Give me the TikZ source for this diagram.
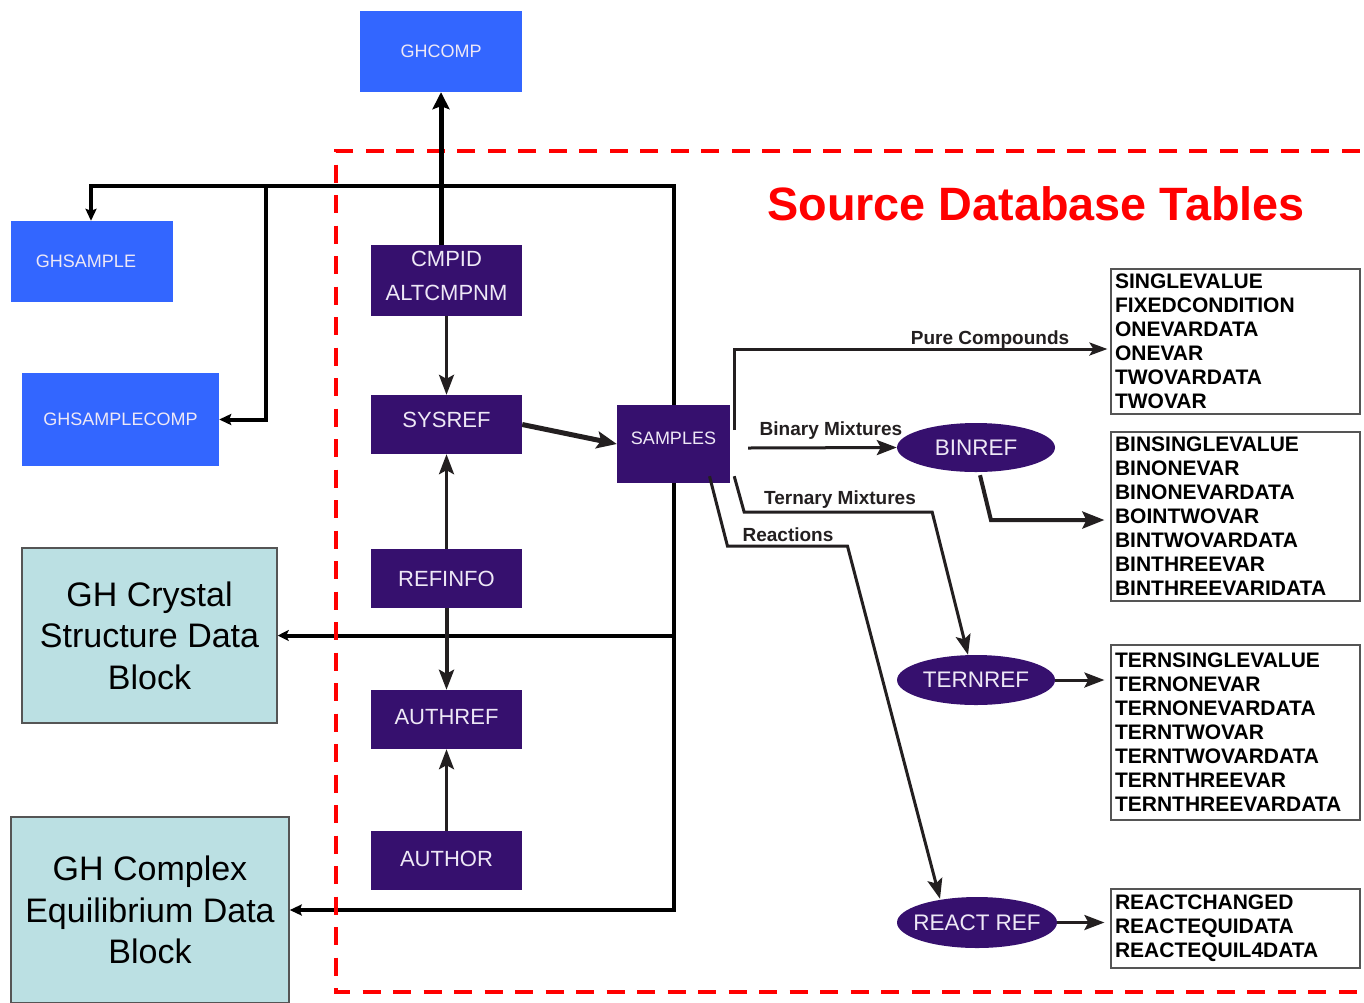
\documentclass[tikz,border=0pt]{standalone}
\usepackage{fontspec}
\setmainfont{Liberation Sans}
\usetikzlibrary{arrows.meta,shapes.geometric,calc}

\definecolor{tblue}{HTML}{3366FF}
\definecolor{tpurple}{HTML}{36106E}
\definecolor{tteal}{HTML}{BBE0E3}
\definecolor{tlabel}{HTML}{EEE8F6}
\definecolor{tink}{HTML}{231F20}
\definecolor{tframe}{HTML}{555555}

\begin{document}
\begin{tikzpicture}[x=1pt,y=-1pt,
  ghbox/.style={fill=tblue, text=tlabel, inner sep=0pt,
    font=\fontsize{18}{20}\selectfont},
  blockbox/.style={fill=tteal, draw=tframe, line width=1.5pt, inner sep=0pt,
    align=center, font=\fontsize{34}{41.5}\selectfont},
  tablebox/.style={fill=tpurple, text=tlabel, inner sep=0pt,
    minimum width=151pt, minimum height=59pt, align=center,
    font=\fontsize{22}{34}\selectfont},
  refoval/.style={ellipse, fill=tpurple, text=tlabel, inner ysep=0pt,
    inner xsep=-30pt, minimum width=158pt, minimum height=50pt,
    font=\fontsize{22.5}{24}\selectfont},
  listbox/.style={draw=tframe, line width=1.2pt, fill=white, inner xsep=4pt,
    inner ysep=0pt, text width=241pt, align=left,
    font=\fontsize{21}{24}\bfseries\selectfont},
  flowlabel/.style={inner sep=0pt, text=tink,
    font=\fontsize{19}{20}\bfseries\selectfont},
  bus/.style={line width=4pt, black},
  link/.style={line width=3pt, tink},
  bigtip/.style={-{Stealth[length=20pt,width=15pt,inset=4pt]}},
  smalltip/.style={-{Stealth[length=12pt,width=11pt,inset=2pt]}},
]
\useasboundingbox (0,0) rectangle (1364,1002);
\fill[white] (0,0) rectangle (1364,1002);

% ---- outside blocks
\node[ghbox, minimum width=162pt, minimum height=81pt] (ghcomp) at (441,51.5) {GHCOMP};
\node[ghbox, minimum width=162pt, minimum height=81pt] (ghsample) at (92,261.5) {GHSAMPLE\hspace*{12pt}};
\node[ghbox, minimum width=197pt, minimum height=93pt] (ghsamplecomp) at (120.5,419.5) {GHSAMPLECOMP};
\node[blockbox, minimum width=255pt, minimum height=175pt] (crystal) at (149.5,635.5)
  {GH Crystal\\Structure Data\\Block};
\node[blockbox, minimum width=278pt, minimum height=186pt] (complex) at (150,910)
  {GH Complex\\Equilibrium Data\\Block};

% ---- source tables
\node[tablebox, minimum height=71pt, text depth=9pt] (cmpid) at (446.5,280.5) {CMPID\\ALTCMPNM};
\node[tablebox, text depth=10pt] (sysref) at (446.5,424.5) {SYSREF};
\node[tablebox] (refinfo) at (446.5,578.5) {REFINFO};
\node[tablebox, text depth=5pt] (authref) at (446.5,719.5) {AUTHREF};
\node[tablebox, text depth=4pt] (author) at (446.5,860.5) {AUTHOR};
\node[tablebox, minimum width=113pt, minimum height=78pt, text depth=12pt,
  font=\fontsize{18}{20}\selectfont] (samples) at (673.5,444) {SAMPLES};

\node[refoval, minimum height=49pt] (binref) at (976,447.5) {BINREF};
\node[refoval] (ternref) at (976,680) {TERNREF};
\node[refoval, minimum width=160pt, minimum height=51pt] (reactref) at (977,922.5) {REACT REF};

\node[listbox, minimum height=145pt] (pure) at (1235.5,341.5)
  {SINGLEVALUE\\FIXEDCONDITION\\ONEVARDATA\\ONEVAR\\TWOVARDATA\\TWOVAR};
\node[listbox, minimum height=169pt] (binlist) at (1235.5,516.5)
  {BINSINGLEVALUE\\BINONEVAR\\BINONEVARDATA\\BOINTWOVAR\\BINTWOVARDATA\\BINTHREEVAR\\BINTHREEVARIDATA};
\node[listbox, minimum height=175pt] (ternlist) at (1235.5,732.5)
  {TERNSINGLEVALUE\\TERNONEVAR\\TERNONEVARDATA\\TERNTWOVAR\\TERNTWOVARDATA\\TERNTHREEVAR\\TERNTHREEVARDATA};
\node[listbox, minimum height=79pt] (reactlist) at (1235.5,928.5)
  {REACTCHANGED\\REACTEQUIDATA\\REACTEQUIL4DATA};

\node[text=red, inner sep=0pt, font=\fontsize{46.8}{50}\bfseries\selectfont]
  (title) at (1036,204) {Source Database Tables};

% ---- bus lines from SAMPLES to the GH blocks
\coordinate (busjoint) at (266,186);
\draw[bus, smalltip] (samples.north) -- ++(0,-219) -| ([xshift=-1pt]ghsample.north);
\draw[bus, smalltip] (busjoint) |- (ghsamplecomp.east);
\draw[bus, smalltip] (samples.south) |- (complex.east);
\draw[bus, -{Stealth[length=11pt,width=11pt,inset=2.5pt]}]
  (samples.south |- crystal.east) -- (crystal.east);

% ---- dashed frame around the source tables
\draw[red, line width=4pt, dash pattern=on 18pt off 12.5pt]
  (1390,151) -- (336,151) -- (336,992) -- (1390,992);

% ---- links between tables
\draw[line width=5pt, black, -{Stealth[length=17pt,width=17pt,inset=3pt]}]
  (ghcomp.south |- cmpid.north) -- (ghcomp.south);
\draw[link, bigtip] (cmpid.south) -- (sysref.north);
\draw[link, bigtip] (refinfo.north) -- (sysref.south);
\draw[link, line width=4pt, bigtip] (refinfo.south) -- (authref.north);
\draw[link, bigtip] (author.north) -- (authref.south);
\draw[link, line width=5pt, -{Stealth[length=20pt,width=17pt,inset=4pt]}]
  (sysref.east) -- (samples.west);

% ---- mixture branches
\draw[link, -{Stealth[length=18pt,width=13pt,inset=4pt]}]
  ($(samples.east)+(4,-14)$) |- ($(pure.west)+(-3,7.5)$);
\node[flowlabel] (purelbl) at (990,340) {Pure Compounds};

\draw[link, bigtip] ($(samples.east)+(18,4)$) -- (binref.west);
\node[flowlabel] (binlbl) at (831,431) {Binary Mixtures};

\draw[link, bigtip] ($(samples.south east)+(4,-7)$) -- ++(10,36) -- ++(188,0)
  -- ($(ternref.north)+(-8,0)$);
\node[flowlabel] (ternlbl) at (840,500) {Ternary Mixtures};

\draw[link, bigtip] ($(samples.south)+(36,-7)$) -- ++(18,70) -- ++(120,0)
  -- ($(reactref.north)+(-37,2)$);
\node[flowlabel] (reactlbl) at (788,535) {Reactions};

% ---- reference tables to their data tables
\draw[link, line width=4pt, -{Stealth[length=22pt,width=17pt,inset=4pt]}]
  ($(binref.south)+(4,3)$) -- ++(11,45) -- ($(binlist.west)+(-6,3.5)$);
\draw[link, bigtip] (ternref.east) -- ([xshift=-6pt]ternref.east -| ternlist.west);
\draw[link, bigtip] (reactref.east) -- ([xshift=-6pt]reactref.east -| reactlist.west);
\end{tikzpicture}
\end{document}
